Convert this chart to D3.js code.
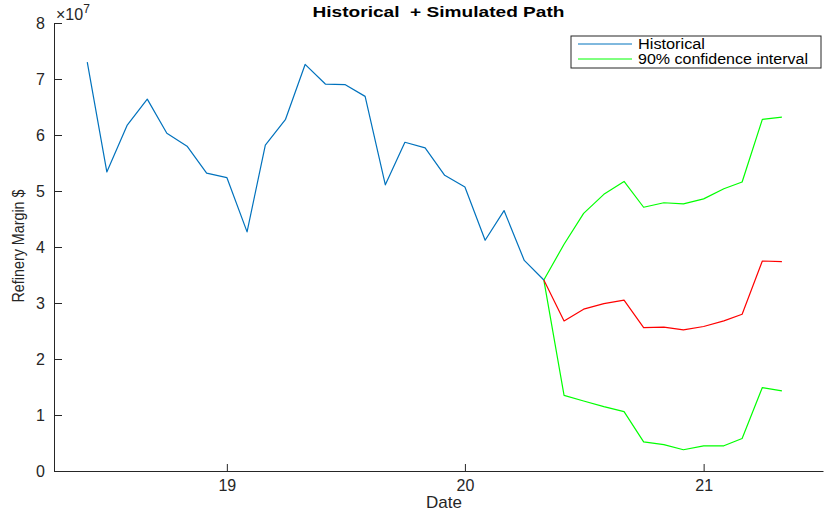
<!DOCTYPE html>
<html>
<head>
<meta charset="utf-8">
<script src="https://cdn.jsdelivr.net/npm/d3@7"></script>
<style>
    body { margin: 0; background: #fff; }
    svg { display: block; font-family: "Liberation Sans", Arial, Helvetica, sans-serif; }
</style>
</head>
<body>
<svg id="chart" width="828" height="514"></svg>
<script>
/**
 * Data (values in units of 1e7).
 */
const histDates = ['2018-06', '2018-07', '2018-08', '2018-09', '2018-10', '2018-11', '2018-12',
    '2019-01', '2019-02', '2019-03', '2019-04', '2019-05', '2019-06', '2019-07', '2019-08', '2019-09',
    '2019-10', '2019-11', '2019-12', '2020-01', '2020-02', '2020-03', '2020-04', '2020-05'];
const histValues = [7.30, 5.34, 6.17, 6.64, 6.03, 5.80, 5.32, 5.24, 4.27, 5.82, 6.28, 7.26,
    6.91, 6.90, 6.69, 5.11, 5.87, 5.77, 5.28, 5.07, 4.12, 4.65, 3.76, 3.41];

const simDates = ['2020-05', '2020-06', '2020-07', '2020-08', '2020-09', '2020-10', '2020-11',
    '2020-12', '2021-01', '2021-02', '2021-03', '2021-04', '2021-05'];
const simMedian = [3.41, 2.68, 2.89, 2.99, 3.05, 2.56, 2.57, 2.52, 2.58, 2.68, 2.80, 3.75, 3.74];
const simUpper = [3.41, 4.05, 4.60, 4.94, 5.17, 4.71, 4.79, 4.77, 4.86, 5.04, 5.16, 6.28, 6.32];
const simLower = [3.41, 1.35, 1.25, 1.15, 1.06, 0.52, 0.47, 0.38, 0.45, 0.45, 0.58, 1.49, 1.43];

const yTicks = [0, 1, 2, 3, 4, 5, 6, 7, 8];
const xTickDates = ['2019-01', '2020-01', '2021-01'];
const legendLabels = ['Historical', '90% confidence interval'];

/**
 * Visual configs.
 */
const margin = { top: 23, right: 5, bottom: 43, left: 54 };
const visWidth = 828, visHeight = 514;
const width = visWidth - margin.left - margin.right,
    height = visHeight - margin.top - margin.bottom;

const axisColor = '#262626';
const colors = { hist: '#0072BD', median: '#FF0000', ci: '#00FF00' };
const legendTextWidths = [67, 170];

const parse = d3.utcParse('%Y-%m');

const x = d3.scaleUtc()
    .domain([new Date(Date.UTC(2018, 3, 11)), new Date(Date.UTC(2021, 6, 3))])
    .range([0, width]);
const y = d3.scaleLinear().domain([0, 8]).range([height, 0]);

const svg = d3.select('#chart');
const g = svg.append('g').attr('transform', 'translate(' + margin.left + ',' + margin.top + ')');

/**
 * Axes (MATLAB style: ticks pointing inward, no box).
 */
const xAxis = g.append('g')
    .attr('transform', 'translate(0,' + height + ')')
    .call(d3.axisBottom(x)
        .tickValues(xTickDates.map(parse))
        .tickFormat(d3.utcFormat('%y'))
        .tickSizeInner(-7).tickSizeOuter(0).tickPadding(9));

const yAxis = g.append('g')
    .call(d3.axisLeft(y)
        .tickValues(yTicks)
        .tickFormat(d3.format('d'))
        .tickSizeInner(-8).tickSizeOuter(0).tickPadding(9));

[xAxis, yAxis].forEach(a => {
    a.select('.domain').attr('stroke', axisColor).attr('stroke-width', 1);
    a.selectAll('.tick line').attr('stroke', axisColor);
    a.selectAll('.tick text').attr('fill', axisColor).style('font-size', '16px');
});

/**
 * Lines.
 */
const line = d3.line()
    .x(d => x(d.date))
    .y(d => y(d.value));

const series = [
    { dates: simDates, values: simUpper, color: colors.ci },
    { dates: simDates, values: simLower, color: colors.ci },
    { dates: simDates, values: simMedian, color: colors.median },
    { dates: histDates, values: histValues, color: colors.hist }
];

g.selectAll('.series').data(series).enter().append('path')
    .attr('class', 'series')
    .attr('fill', 'none')
    .attr('stroke', d => d.color)
    .attr('stroke-width', 1.2)
    .attr('stroke-linejoin', 'round')
    .attr('d', d => line(d.values.map((v, i) => ({ date: parse(d.dates[i]), value: v }))));

/**
 * Texts.
 */
svg.append('text')
    .attr('x', margin.left + width / 2)
    .attr('y', 17)
    .attr('text-anchor', 'middle')
    .style('font-size', '15px')
    .style('font-weight', 'bold')
    .attr('fill', '#000')
    .attr('xml:space', 'preserve')
    .attr('textLength', 252)
    .attr('lengthAdjust', 'spacingAndGlyphs')
    .text('Historical  + Simulated Path');

const expo = svg.append('text')
    .attr('x', margin.left + 2)
    .attr('y', 20)
    .attr('fill', axisColor)
    .style('font-size', '16px');
expo.append('tspan').text('\u00d710');
expo.append('tspan').attr('dy', -7).style('font-size', '12px').text('7');

svg.append('text')
    .attr('transform', 'translate(24,246) rotate(-90)')
    .attr('text-anchor', 'middle')
    .attr('fill', axisColor)
    .style('font-size', '16px')
    .attr('textLength', 113)
    .attr('lengthAdjust', 'spacingAndGlyphs')
    .text('Refinery Margin $');

svg.append('text')
    .attr('x', 444)
    .attr('y', 508)
    .attr('text-anchor', 'middle')
    .attr('fill', axisColor)
    .style('font-size', '17px')
    .text('Date');

/**
 * Legend.
 */
const legend = svg.append('g').attr('transform', 'translate(571,36)');
legend.append('rect')
    .attr('width', 250).attr('height', 32)
    .attr('fill', '#fff')
    .attr('stroke', axisColor).attr('stroke-width', 1);

const legendItems = legend.selectAll('.item')
    .data(legendLabels.map((l, i) => ({ label: l, color: i === 0 ? colors.hist : colors.ci, w: legendTextWidths[i] })))
    .enter().append('g')
    .attr('class', 'item')
    .attr('transform', (d, i) => 'translate(0,' + (8 + i * 15) + ')');

legendItems.append('line')
    .attr('x1', 7).attr('x2', 61)
    .attr('stroke', d => d.color).attr('stroke-width', 1);
legendItems.append('text')
    .attr('x', 67).attr('dy', '0.36em')
    .attr('fill', '#000')
    .style('font-size', '14px')
    .attr('textLength', d => d.w)
    .attr('lengthAdjust', 'spacingAndGlyphs')
    .text(d => d.label);
</script>
</body>
</html>
